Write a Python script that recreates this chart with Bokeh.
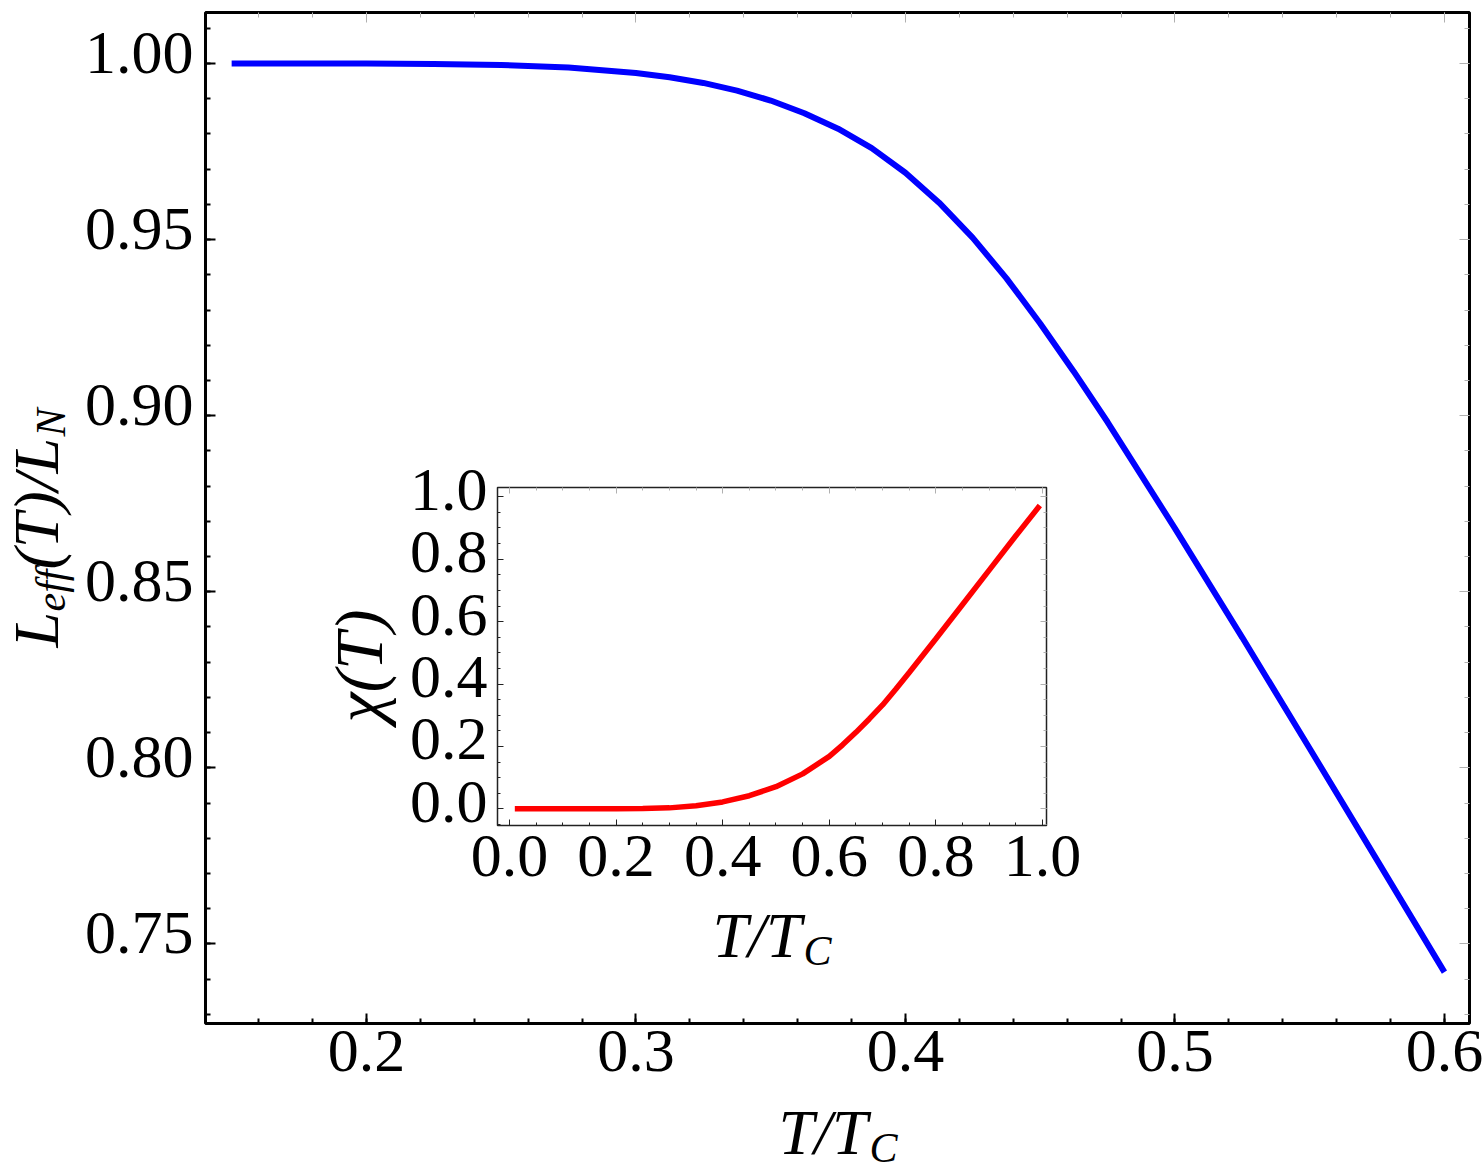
import math
from bokeh.plotting import figure
from bokeh.models import (LinearAxis, Range1d, SingleIntervalTicker, PrintfTickFormatter,
                          CustomJSTickFormatter, Label)
from bokeh.embed import file_html
from bokeh.resources import INLINE

# ---------------- data ----------------
main_t = [0.150, 0.175, 0.200, 0.225, 0.250, 0.275, 0.300, 0.3125, 0.325, 0.3375,
          0.350, 0.3625, 0.375, 0.3875, 0.400, 0.4125, 0.425, 0.4375, 0.450, 0.4625,
          0.475, 0.500, 0.525, 0.550, 0.575, 0.600]
main_ratio = [1.0000, 1.0000, 1.0000, 0.9999, 0.9996, 0.9989, 0.9973, 0.9961, 0.9945, 0.9923,
              0.9895, 0.9859, 0.9815, 0.9760, 0.9690, 0.9605, 0.9505, 0.9390, 0.9262, 0.9125,
              0.8982, 0.8680, 0.8370, 0.8055, 0.7738, 0.7420]

inset_t = [0.01, 0.05, 0.10, 0.15, 0.20, 0.25, 0.30, 0.35, 0.40, 0.45, 0.50,
           0.55, 0.60, 0.625, 0.65, 0.675, 0.70, 0.725, 0.75, 0.80, 0.85, 0.90, 0.95, 0.995]
inset_chi = [0.0, 0.0, 0.0, 0.0, 0.0001, 0.0007, 0.003, 0.010, 0.022, 0.042, 0.071,
             0.112, 0.168, 0.205, 0.245, 0.288, 0.333, 0.384, 0.437, 0.545, 0.655,
             0.765, 0.875, 0.972]

main_x_tick_step = 0.1
main_y_tick_step = 0.05
inset_tick_step = 0.2

# ---------------- layout constants ----------------
W, H = 1484, 1175
FONT = "Liberation Serif"
TICK_FONT = "62px"

MX0, MX1 = 0.1403, 0.6093
MY0, MY1 = 0.7274, 1.0145
ML, MR, MT, MB = 205, 15, 12, 152
MFH = H - MT - MB


def style_axis(ax, ticker, formatter, tick_color, tick_w, maj, mnr, font_size, standoff):
    ax.ticker = ticker
    ax.formatter = formatter
    ax.axis_line_color = None
    ax.major_tick_in = maj
    ax.major_tick_out = 0
    ax.minor_tick_in = mnr
    ax.minor_tick_out = 0
    ax.major_tick_line_color = tick_color
    ax.minor_tick_line_color = tick_color
    ax.major_tick_line_width = tick_w
    ax.minor_tick_line_width = tick_w
    ax.major_label_text_font = FONT
    ax.major_label_text_font_size = font_size
    ax.major_label_text_color = "black"
    ax.major_label_standoff = standoff


def blank():
    return CustomJSTickFormatter(code="return ''")


# ---------------- main figure ----------------
p = figure(width=W, height=H, x_range=Range1d(MX0, MX1), y_range=Range1d(MY0, MY1),
           output_backend="svg", toolbar_location=None,
           min_border_left=ML, min_border_right=MR, min_border_top=MT, min_border_bottom=MB,
           x_axis_type=None, y_axis_type=None)
p.outline_line_color = "black"
p.outline_line_width = 3
p.background_fill_color = "white"
p.border_fill_color = "white"
# tick labels of the left axis sit a few pixels above the tick marks in the original
d_main = 11 * (MY1 - MY0) / MFH
p.extra_y_ranges = {"ylab": Range1d(MY0 - d_main, MY1 - d_main)}

xb = LinearAxis()
style_axis(xb, SingleIntervalTicker(interval=main_x_tick_step, num_minor_ticks=5),
           PrintfTickFormatter(format="%.1f"), "black", 2, 10, 5, TICK_FONT, 7)
p.add_layout(xb, "below")
yl_ticks = LinearAxis()
style_axis(yl_ticks, SingleIntervalTicker(interval=main_y_tick_step, num_minor_ticks=5),
           blank(), "black", 2, 10, 5, "0px", 0)
p.add_layout(yl_ticks, "left")
yl_labels = LinearAxis(y_range_name="ylab")
style_axis(yl_labels, SingleIntervalTicker(interval=main_y_tick_step, num_minor_ticks=5),
           PrintfTickFormatter(format="%.2f"), None, 1, 0, 0, TICK_FONT, 12)
p.add_layout(yl_labels, "left")
xt = LinearAxis()
style_axis(xt, SingleIntervalTicker(interval=main_x_tick_step, num_minor_ticks=5),
           blank(), "#b0b0b0", 1, 10, 5, "0px", 0)
p.add_layout(xt, "above")
yr = LinearAxis()
style_axis(yr, SingleIntervalTicker(interval=main_y_tick_step, num_minor_ticks=5),
           blank(), "#b0b0b0", 1, 10, 5, "0px", 0)
p.add_layout(yr, "right")

p.line(main_t, main_ratio, line_color="#0000ff", line_width=6)

# ---------------- inset figure ----------------
IX0, IX1 = -0.0225, 1.0075
IY0, IY1 = -0.0535, 1.0298
IFL, IFT, IFW, IFH = 497, 487, 549, 338
IL, IR, IT, IB = 197, 39, 47, 150
IW, IH = IL + IFW + IR, IT + IFH + IB

q = figure(width=IW, height=IH, x_range=Range1d(IX0, IX1), y_range=Range1d(IY0, IY1),
           output_backend="svg", toolbar_location=None,
           min_border_left=IL, min_border_right=IR, min_border_top=IT, min_border_bottom=IB,
           x_axis_type=None, y_axis_type=None,
           styles={"position": "absolute", "left": f"{IFL - IL}px", "top": f"{IFT - IT}px",
                   "z-index": "2"})
q.outline_line_color = "#222222"
q.outline_line_width = 1.5
q.background_fill_alpha = 0
q.border_fill_alpha = 0
d_ins = 7 * (IY1 - IY0) / IFH
q.extra_y_ranges = {"ylab": Range1d(IY0 - d_ins, IY1 - d_ins)}

qxb = LinearAxis()
style_axis(qxb, SingleIntervalTicker(interval=inset_tick_step, num_minor_ticks=4),
           PrintfTickFormatter(format="%.1f"), "#222222", 1, 6, 3, TICK_FONT, 10)
q.add_layout(qxb, "below")
qyl_ticks = LinearAxis()
style_axis(qyl_ticks, SingleIntervalTicker(interval=inset_tick_step, num_minor_ticks=4),
           blank(), "#222222", 1, 6, 3, "0px", 0)
q.add_layout(qyl_ticks, "left")
qyl_labels = LinearAxis(y_range_name="ylab")
style_axis(qyl_labels, SingleIntervalTicker(interval=inset_tick_step, num_minor_ticks=4),
           PrintfTickFormatter(format="%.1f"), None, 1, 0, 0, TICK_FONT, 10)
q.add_layout(qyl_labels, "left")
qxt = LinearAxis()
style_axis(qxt, SingleIntervalTicker(interval=inset_tick_step, num_minor_ticks=4),
           blank(), "#b0b0b0", 1, 6, 3, "0px", 0)
q.add_layout(qxt, "above")
qyr = LinearAxis()
style_axis(qyr, SingleIntervalTicker(interval=inset_tick_step, num_minor_ticks=4),
           blank(), "#b0b0b0", 1, 6, 3, "0px", 0)
q.add_layout(qyr, "right")

q.line(inset_t, inset_chi, line_color="#ff0000", line_width=5.5)

# ---------------- label overlay (page-pixel coordinates) ----------------
ov = figure(width=W, height=H, x_range=Range1d(0, W), y_range=Range1d(H, 0),
            output_backend="svg", toolbar_location=None,
            min_border_left=0, min_border_right=0, min_border_top=0, min_border_bottom=0,
            x_axis_type=None, y_axis_type=None,
            styles={"position": "absolute", "left": "0px", "top": "0px", "z-index": "3",
                    "pointer-events": "none"})
ov.outline_line_color = None
ov.background_fill_alpha = 0
ov.border_fill_alpha = 0
ov.xgrid.visible = False
ov.ygrid.visible = False

SHIFT = 0.36  # labels are anchored at the middle of their text box


def lab(x, y, text, size, angle=0.0):
    if angle == 0.0:
        y = y - SHIFT * size
    else:
        x = x - SHIFT * size
    ov.add_layout(Label(x=x, y=y, text=text, angle=angle, text_font=FONT,
                        text_font_style="italic", text_font_size=f"{size}px",
                        text_align="left", text_baseline="alphabetic", text_color="black"))


R = math.pi / 2
# main x label  T/T_C
lab(778, 1155, "T/T", 64)
lab(869, 1163, "C", 42)
# main y label  L_eff(T)/L_N
lab(59, 647, "L", 64, R)
lab(66, 611, "eff", 42, R)
lab(59, 569, "(T)/L", 64, R)
lab(66, 436, "N", 42, R)
# inset labels
lab(712, 958, "T/T", 64)
lab(803, 966, "C", 42)
lab(383, 722, "\u03c7(T)", 68, R)

open("out.html", "w").write(file_html([p, q, ov], INLINE))
